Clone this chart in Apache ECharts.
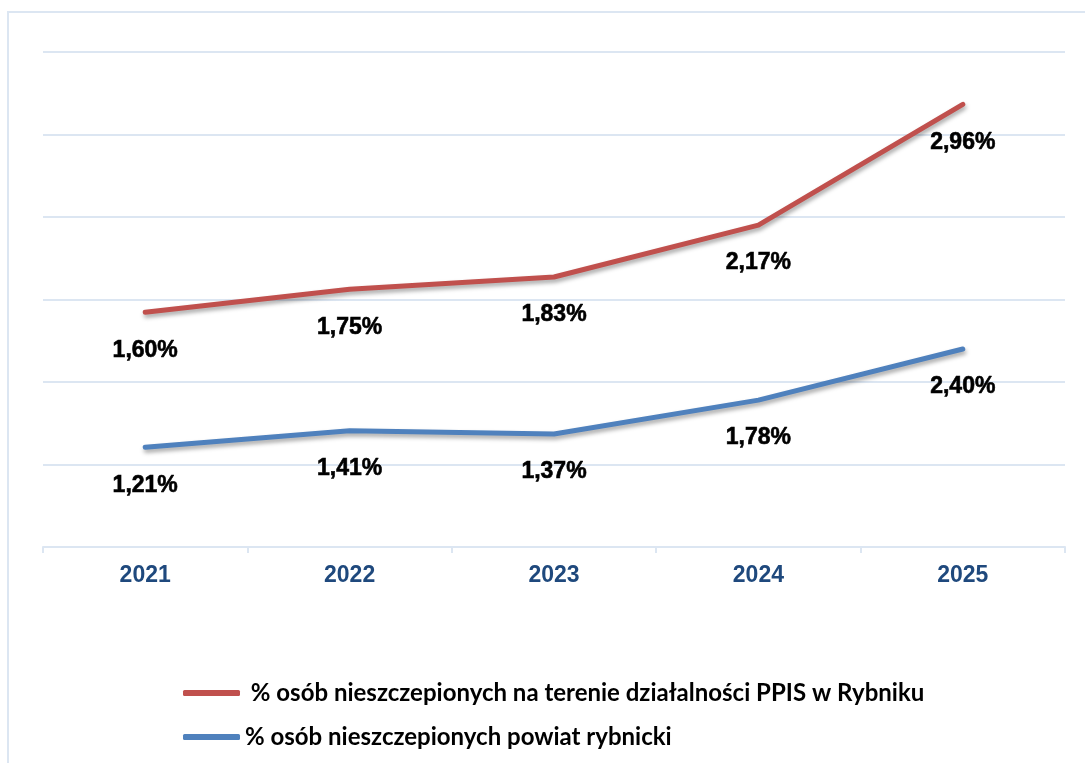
<!DOCTYPE html>
<html>
<head>
<meta charset="utf-8">
<script src="https://cdn.jsdelivr.net/npm/echarts@6/dist/echarts.min.js"></script>
<style>
  html, body { margin: 0; padding: 0; background: #fff; }
  #chart { width: 1085px; height: 763px; }
  #frame {
    position: absolute; left: 7px; top: 11px; right: 0; bottom: 0;
    border-left: 2px solid #dce6f2; border-top: 2px solid #dce6f2;
    pointer-events: none;
  }
</style>
</head>
<body>
<div id="frame"></div>
<div id="chart"></div>
<script>
var years = ['2021', '2022', '2023', '2024', '2025'];
var ppisValues = [1.60, 1.75, 1.83, 2.17, 2.96];
var powiatValues = [1.21, 1.41, 1.37, 1.78, 2.40];
var ppisName = ' % osób nieszczepionych na terenie działalności PPIS w Rybniku';
var powiatName = '% osób nieszczepionych powiat rybnicki';

var gridColor = '#dce6f2';

function fmt(p) {
    return p.value.toFixed(2).replace('.', ',') + '%';
}

function lineSeries(name, data, color, yIdx) {
    return {
        name: name,
        type: 'line',
        data: data,
        yAxisIndex: yIdx,
        symbol: 'circle',
        symbolSize: 1,
        showSymbol: true,
        lineStyle: {
            color: color,
            width: 5,
            cap: 'round',
            join: 'round',
            shadowColor: 'rgba(0,0,0,0.35)',
            shadowBlur: 4,
            shadowOffsetX: 1,
            shadowOffsetY: 3
        },
        itemStyle: { color: color },
        label: {
            show: true,
            position: 'bottom',
            distance: 26,
            formatter: fmt,
            color: '#000',
            textBorderColor: '#000',
            textBorderWidth: 0.6,
            fontFamily: '"Liberation Sans", Arial, sans-serif',
            fontWeight: 'bold',
            fontSize: 23
        },
        emphasis: { disabled: true }
    };
}

var mChart = echarts.init(document.getElementById('chart'));
mChart.setOption({
    animation: false,
    backgroundColor: 'transparent',
    grid: { left: 43, right: 20, top: 52, bottom: 216 },
    legend: {
        orient: 'vertical',
        left: 178,
        top: 676,
        itemWidth: 57,
        itemHeight: 6,
        itemGap: 20,
        icon: 'roundRect',
        textStyle: {
            fontFamily: 'Lato, sans-serif',
            fontWeight: 'bold',
            fontSize: 24,
            color: '#000'
        },
        data: [ppisName, powiatName]
    },
    xAxis: {
        type: 'category',
        data: years,
        boundaryGap: true,
        axisLine: { lineStyle: { color: gridColor, width: 2 } },
        axisTick: { show: true, length: 6, lineStyle: { color: gridColor, width: 2 } },
        axisLabel: {
            margin: 17,
            color: '#1f497d',
            fontFamily: '"Liberation Sans", Arial, sans-serif',
            fontWeight: 'bold',
            fontSize: 23
        }
    },
    yAxis: [{
        type: 'value',
        min: 0,
        max: 6,
        interval: 1,
        axisLabel: { show: false },
        axisLine: { show: false },
        axisTick: { show: false },
        splitLine: { lineStyle: { color: gridColor, width: 2 } }
    }, {
        type: 'value',
        min: 0.064,
        max: 3.302,
        show: false,
        splitLine: { show: false }
    }],
    series: [
        lineSeries(ppisName, ppisValues, '#c0504d', 1),
        lineSeries(powiatName, powiatValues, '#4f81bd', 0)
    ]
});
</script>
</body>
</html>
